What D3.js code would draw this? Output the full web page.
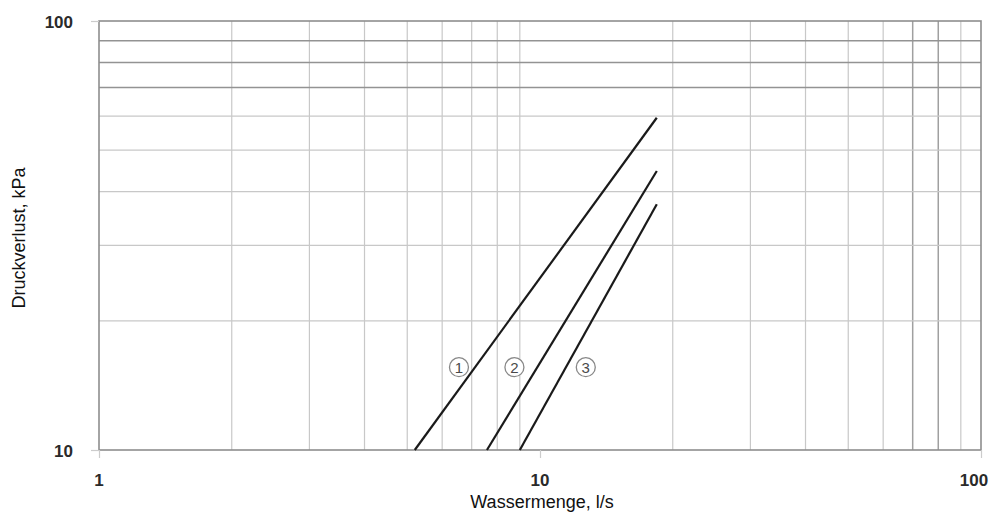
<!DOCTYPE html>
<html>
<head>
<meta charset="utf-8">
<script src="https://cdn.jsdelivr.net/npm/d3@7"></script>
<style>
  body { margin: 0; background: #fff; }
  svg { display: block; font-family: "Liberation Sans", Arial, sans-serif; }
  .tick-label { font-size: 17px; font-weight: bold; fill: #2a2a2a; }
  .axis-title { font-size: 18px; fill: #111; }
  .curve-label { font-size: 15px; fill: #4a4a4a; }
</style>
</head>
<body>
<svg id="chart" width="992" height="514"></svg>
<script>
// Chart values
const xTicks = [1, 10, 100];
const yTicks = [10, 100];
const xGrid = [2, 3, 4, 5, 6, 7, 8, 9, 20, 30, 40, 50, 60, 70, 80, 90];
const yGrid = [20, 30, 40, 50, 60, 70, 80, 90];
const darkGridX = [70, 80];
const darkGridY = [70, 80, 90];

const curveNames = ["1", "2", "3"];
const curveFlow = [[5.2, 18.4], [7.58, 18.4], [9.0, 18.4]];
const curveLoss = [[10, 59.5], [10, 44.7], [10, 37.4]];
const labelFlow = [6.55, 8.75, 12.7];
const labelLoss = [15.6, 15.6, 15.6];

const dims = { width: 992, height: 514, margin: { top: 21, right: 11, bottom: 64, left: 99 } };
const svg = d3.select("#chart");

const x = d3.scaleLog()
  .domain([1, 100])
  .range([dims.margin.left, dims.width - dims.margin.right]);
const y = d3.scaleLog()
  .domain([10, 100])
  .range([dims.height - dims.margin.bottom, dims.margin.top]);

const [x0, x1] = x.range();
const [y0, y1] = y.range();

// grid lines
const grid = svg.append("g");
grid.selectAll(".gx")
  .data(xGrid)
  .enter()
  .append("line")
    .attr("x1", d => x(d)).attr("x2", d => x(d))
    .attr("y1", y1).attr("y2", y0)
    .attr("stroke", d => darkGridX.includes(d) ? "#a0a0a0" : "#c8c8c8")
    .attr("stroke-width", d => darkGridX.includes(d) ? 1.5 : 1.2);

grid.selectAll(".gy")
  .data(yGrid)
  .enter()
  .append("line")
    .attr("y1", d => y(d)).attr("y2", d => y(d))
    .attr("x1", x0).attr("x2", x1)
    .attr("stroke", d => darkGridY.includes(d) ? "#939393" : "#c8c8c8")
    .attr("stroke-width", d => darkGridY.includes(d) ? 1.5 : 1.2);

// frame
svg.append("rect")
  .attr("x", x0).attr("y", y1)
  .attr("width", x1 - x0).attr("height", y0 - y1)
  .attr("fill", "none")
  .attr("stroke", "#8e8e8e")
  .attr("stroke-width", 1.6);

// axes (small outward ticks, labels drawn separately)
const xAxis = svg.append("g")
  .attr("transform", `translate(0,${y0})`)
  .call(d3.axisBottom(x).tickValues(xTicks).tickSize(8).tickFormat(""));
const yAxis = svg.append("g")
  .attr("transform", `translate(${x0},0)`)
  .call(d3.axisLeft(y).tickValues(yTicks).tickSize(8).tickFormat(""));
[xAxis, yAxis].forEach(g => {
  g.select(".domain").remove();
  g.selectAll("line").attr("stroke", "#cccccc").attr("stroke-width", 1.2);
});

// x tick labels; the last one is pulled in so it stays inside the page
svg.append("g").selectAll("text")
  .data(xTicks)
  .enter()
  .append("text")
    .attr("class", "tick-label")
    .attr("x", d => Math.min(x(d), dims.width - 18))
    .attr("y", y0 + 36)
    .attr("text-anchor", "middle")
    .text(d => d);

svg.append("g").selectAll("text")
  .data(yTicks)
  .enter()
  .append("text")
    .attr("class", "tick-label")
    .attr("x", x0 - 26)
    .attr("y", d => y(d) + 7)
    .attr("text-anchor", "end")
    .text(d => d);

// axis titles
svg.append("text")
  .attr("class", "axis-title")
  .attr("x", 542)
  .attr("y", 508)
  .attr("text-anchor", "middle")
  .text("Wassermenge, l/s");

svg.append("text")
  .attr("class", "axis-title")
  .attr("transform", `translate(25,238) rotate(-90)`)
  .attr("text-anchor", "middle")
  .text("Druckverlust, kPa");

// curves
const line = d3.line().x(d => x(d[0])).y(d => y(d[1]));
svg.append("g").selectAll("path")
  .data(curveNames.map((n, i) => curveFlow[i].map((f, j) => [f, curveLoss[i][j]])))
  .enter()
  .append("path")
    .attr("d", line)
    .attr("fill", "none")
    .attr("stroke", "#1a1a1a")
    .attr("stroke-width", 2.2);

// curve labels, circled numbers
const labels = svg.append("g").selectAll("g")
  .data(curveNames)
  .enter()
  .append("g")
    .attr("transform", (d, i) => `translate(${x(labelFlow[i])},${y(labelLoss[i])})`);
labels.append("circle")
  .attr("r", 9.5)
  .attr("fill", "#fff")
  .attr("stroke", "#888")
  .attr("stroke-width", 1.3);
labels.append("text")
  .attr("class", "curve-label")
  .attr("text-anchor", "middle")
  .attr("dominant-baseline", "central")
  .text(d => d);
</script>
</body>
</html>
